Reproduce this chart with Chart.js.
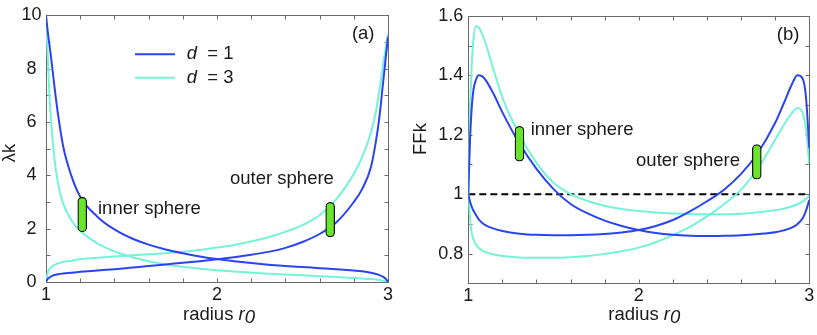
<!DOCTYPE html>
<html>
<head>
<meta charset="utf-8">
<script src="https://cdn.jsdelivr.net/npm/chart.js@4"></script>
<style>
  body { margin: 0; background: #fff; }
  #wrap { position: relative; width: 817px; height: 335px; }
  canvas { position: absolute; top: 0; }
  #chartA { left: 0; }
  #chartB { left: 410px; }
</style>
</head>
<body>
<div id="wrap">
  <canvas id="chartA" width="410" height="335"></canvas>
  <canvas id="chartB" width="407" height="335"></canvas>
</div>
<script>
// panel (a): lambda_k against radius r0
const rA = [1.00, 1.01, 1.02, 1.03, 1.05, 1.07, 1.10, 1.15, 1.20, 1.30, 1.40, 1.50, 1.60, 1.70, 1.80, 1.90,
            2.00, 2.10, 2.20, 2.30, 2.40, 2.50, 2.60, 2.70, 2.80, 2.85, 2.90, 2.93, 2.95, 2.97, 2.99, 3.00];
const lamInD1  = [10.0, 9.4, 8.9, 8.4, 7.3, 6.3, 5.1, 3.95, 3.2, 2.45, 1.97, 1.64, 1.4, 1.22, 1.08, 0.96,
                  0.86, 0.78, 0.71, 0.65, 0.6, 0.56, 0.52, 0.48, 0.43, 0.4, 0.35, 0.3, 0.26, 0.2, 0.1, 0];
const lamOutD1 = [0, 0.12, 0.17, 0.21, 0.26, 0.29, 0.32, 0.35, 0.38, 0.43, 0.48, 0.54, 0.6, 0.66, 0.72, 0.78,
                  0.85, 0.93, 1.02, 1.13, 1.28, 1.5, 1.8, 2.25, 3.0, 3.5, 4.3, 5.3, 6.2, 7.4, 8.6, 9.2];
const lamInD3  = [9.9, 8.5, 7.0, 6.0, 4.6, 3.7, 2.95, 2.3, 1.92, 1.45, 1.15, 0.94, 0.78, 0.66, 0.57, 0.5,
                  0.44, 0.39, 0.35, 0.31, 0.28, 0.25, 0.22, 0.19, 0.15, 0.13, 0.11, 0.09, 0.07, 0.05, 0.02, 0];
const lamOutD3 = [0, 0.35, 0.48, 0.56, 0.64, 0.7, 0.75, 0.8, 0.85, 0.91, 0.96, 1.0, 1.04, 1.08, 1.13, 1.2,
                  1.29, 1.39, 1.52, 1.68, 1.88, 2.13, 2.5, 3.12, 4.05, 4.7, 5.6, 6.4, 7.2, 8.1, 8.9, 9.3];

// panel (b): FF_k against radius r0
const rB = [1.00, 1.01, 1.02, 1.03, 1.045, 1.06, 1.08, 1.10, 1.15, 1.20, 1.30, 1.40, 1.50, 1.60, 1.70, 1.80,
            1.90, 2.00, 2.10, 2.20, 2.30, 2.40, 2.50, 2.60, 2.70, 2.80, 2.85, 2.90, 2.93, 2.96, 2.98, 3.00];
const ffInD1  = [1.0, 1.18, 1.29, 1.35, 1.385, 1.40, 1.397, 1.385, 1.335, 1.275, 1.17, 1.085, 1.017, 0.967, 0.935, 0.911,
                 0.893, 0.879, 0.869, 0.863, 0.86, 0.859, 0.86, 0.862, 0.866, 0.872, 0.878, 0.888, 0.899, 0.918, 0.943, 0.98];
const ffOutD1 = [1.0, 0.975, 0.958, 0.945, 0.93, 0.916, 0.904, 0.896, 0.884, 0.876, 0.867, 0.863, 0.862, 0.862, 0.863, 0.866,
                 0.871, 0.879, 0.893, 0.913, 0.942, 0.976, 1.015, 1.068, 1.14, 1.24, 1.305, 1.372, 1.40, 1.39, 1.33, 1.155];
const ffInD3  = [1.0, 1.28, 1.43, 1.52, 1.565, 1.562, 1.54, 1.51, 1.415, 1.325, 1.2, 1.105, 1.038, 1.0, 0.977, 0.961,
                 0.95, 0.943, 0.938, 0.935, 0.933, 0.932, 0.932, 0.934, 0.939, 0.946, 0.951, 0.959, 0.966, 0.975, 0.984, 0.995];
const ffOutD3 = [1.0, 0.92, 0.87, 0.85, 0.83, 0.82, 0.811, 0.805, 0.797, 0.792, 0.787, 0.786, 0.786, 0.788, 0.792, 0.799,
                 0.808, 0.82, 0.838, 0.862, 0.89, 0.925, 0.966, 1.015, 1.088, 1.183, 1.232, 1.274, 1.29, 1.275, 1.22, 1.1];
const refR = [1, 3];
const refFF = [1, 1];

// green markers: inner sphere, outer sphere
const markRA = [1.212, 2.662];
const markLoA = [1.88, 1.69];
const markHiA = [3.18, 2.99];
const markRB = [1.30, 2.692];
const markLoB = [1.111, 1.05];
const markHiB = [1.228, 1.167];

const seriesLabels = ['1', '3'];
const xTicks = [1, 2, 3];
const xMinor = [1, 1.2, 1.4, 1.6, 1.8, 2, 2.2, 2.4, 2.6, 2.8, 3];
const yTicksA = [0, 2, 4, 6, 8, 10];
const yMinorA = [1, 2, 3, 4, 5, 6, 7, 8, 9];
const yTicksB = [0.8, 1, 1.2, 1.4, 1.6];
const yMinorB = [0.8, 0.9, 1, 1.1, 1.2, 1.3, 1.4, 1.5];

const FONT = '"Liberation Sans", Arial, sans-serif';
const BLUE = '#2b44f2';
const CYAN = '#74f3da';
const GREEN = '#6be52b';
const FRAME = '#6a6a6a';
const TEXT = '#1a1a1a';

function pts(xs, ys) {
  return xs.map((x, i) => ({ x: x, y: ys[i] }));
}

function lineSet(xs, ys, color) {
  return {
    type: 'line', data: pts(xs, ys), borderColor: color, borderWidth: 2,
    pointRadius: 0, fill: false, cubicInterpolationMode: 'monotone', order: 2
  };
}

function markerSet(xs, lo, hi) {
  return {
    type: 'bar', data: xs.map((x, i) => ({ x: x, y: [lo[i], hi[i]] })),
    backgroundColor: GREEN, borderColor: '#111', borderWidth: 1.3,
    borderRadius: 5, borderSkipped: false, barThickness: 9, order: 0
  };
}

// draw a run of text pieces, some italic, some shifted down
function richText(ctx, x, y, parts, size) {
  let cx = x;
  parts.forEach(p => {
    ctx.font = (p.italic ? 'italic ' : '') + (p.size || size) + 'px ' + FONT;
    ctx.fillText(p.t, cx, y + (p.dy || 0));
    cx += ctx.measureText(p.t).width;
  });
}

// box frame with inward ticks
const framePlugin = {
  id: 'frame',
  beforeDatasetsDraw(chart, args, opts) {
    const { ctx, chartArea: a, scales: { x, y } } = chart;
    const L = Math.round(a.left) + 0.5, R = Math.round(a.right) + 0.5;
    const T = Math.round(a.top) + 0.5, B = Math.round(a.bottom) + 0.5;
    ctx.save();
    ctx.strokeStyle = FRAME;
    ctx.lineWidth = 1;
    ctx.strokeRect(L, T, R - L, B - T);
    ctx.beginPath();
    opts.xMinor.forEach(v => {
      const px = Math.round(x.getPixelForValue(v)) + 0.5;
      ctx.moveTo(px, B); ctx.lineTo(px, B - 4);
      ctx.moveTo(px, T); ctx.lineTo(px, T + 4);
    });
    opts.yMinor.forEach(v => {
      const py = Math.round(y.getPixelForValue(v)) + 0.5;
      ctx.moveTo(L, py); ctx.lineTo(L + 4, py);
      ctx.moveTo(R, py); ctx.lineTo(R - 4, py);
    });
    ctx.stroke();
    ctx.restore();
  }
};

// annotations, axis titles and legend
const notesPlugin = {
  id: 'notes',
  afterDraw(chart, args, opts) {
    const { ctx, scales: { x, y } } = chart;
    ctx.save();
    ctx.fillStyle = TEXT;
    ctx.textBaseline = 'alphabetic';
    ctx.textAlign = 'left';
    opts.labels.forEach(n => {
      richText(ctx, x.getPixelForValue(n.r), y.getPixelForValue(n.v), [{ t: n.text }], 18.5);
    });
    // x title
    richText(ctx, opts.xTitle.x, opts.xTitle.y,
      [{ t: 'radius ' }, { t: 'r', italic: true }, { t: '0', italic: true, dy: 3 }], 18.5);
    // y title
    ctx.save();
    ctx.translate(opts.yTitle.x, opts.yTitle.y);
    ctx.rotate(-Math.PI / 2);
    ctx.textAlign = 'center';
    ctx.textBaseline = 'middle';
    ctx.font = '18.5px ' + FONT;
    ctx.fillText(opts.yTitle.text, 0, 0);
    ctx.restore();
    // legend
    if (opts.legend) {
      const lg = opts.legend;
      [BLUE, CYAN].forEach((c, i) => {
        const ly = lg.y + i * lg.gap;
        ctx.strokeStyle = c;
        ctx.lineWidth = 2;
        ctx.beginPath();
        ctx.moveTo(lg.x0, ly); ctx.lineTo(lg.x1, ly);
        ctx.stroke();
        ctx.textBaseline = 'middle';
        richText(ctx, lg.tx, ly, [{ t: 'd', italic: true }, { t: '  = ' + seriesLabels[i] }], 18.5);
      });
    }
    ctx.restore();
  }
};

function scaleOpts(min, max, ticks, pad, size, isX, center) {
  return {
    type: 'linear', min: min, max: max, offset: false,
    afterBuildTicks: s => { s.ticks = ticks.map(v => ({ value: v })); },
    afterFit: s => { if (isX) s.height = size; else s.width = size; },
    ticks: {
      font: { family: FONT, size: 18 }, color: TEXT, padding: pad,
      maxRotation: 0, crossAlign: center ? 'center' : 'near',
      callback: v => String(v)
    },
    grid: { display: false, drawTicks: false, offset: false },
    border: { display: false }
  };
}

new Chart(document.getElementById('chartA'), {
  type: 'line',
  data: {
    datasets: [
      lineSet(rA, lamInD1, BLUE),
      lineSet(rA, lamOutD1, BLUE),
      lineSet(rA, lamInD3, CYAN),
      lineSet(rA, lamOutD3, CYAN),
      markerSet(markRA, markLoA, markHiA)
    ]
  },
  options: {
    responsive: false,
    animation: false,
    layout: { padding: { left: 0, right: 22, top: 13, bottom: 0 } },
    scales: {
      x: scaleOpts(1, 3, xTicks, 2, 53, true, false),
      y: scaleOpts(0, 10, yTicksA, 4.5, 46, false, true)
    },
    plugins: {
      legend: { display: false },
      tooltip: { enabled: false },
      frame: { xMinor: xMinor, yMinor: yMinorA },
      notes: {
        labels: [
          { text: 'inner sphere', r: 1.304, v: 2.56 },
          { text: 'outer sphere', r: 2.076, v: 3.68 },
          { text: '(a)', r: 2.789, v: 9.11 }
        ],
        xTitle: { x: 183, y: 319.5 },
        yTitle: { x: 10, y: 153, text: 'λk' },
        legend: { x0: 135, x1: 175, y: 54.3, gap: 23.4, tx: 186.7 }
      }
    }
  },
  plugins: [framePlugin, notesPlugin]
});

const refSet = {
  type: 'line', data: pts(refR, refFF), borderColor: '#000', borderWidth: 2,
  borderDash: [7, 4], pointRadius: 0, fill: false, order: 3
};

new Chart(document.getElementById('chartB'), {
  type: 'line',
  data: {
    datasets: [
      refSet,
      lineSet(rB, ffInD1, BLUE),
      lineSet(rB, ffOutD1, BLUE),
      lineSet(rB, ffInD3, CYAN),
      lineSet(rB, ffOutD3, CYAN),
      markerSet(markRB, markLoB, markHiB)
    ]
  },
  options: {
    responsive: false,
    animation: false,
    layout: { padding: { left: 0, right: 7.7, top: 13.3, bottom: 0 } },
    scales: {
      x: scaleOpts(1, 3, xTicks, 2, 51.7, true, false),
      y: scaleOpts(0.7, 1.6, yTicksB, 5, 58.3, false, false)
    },
    plugins: {
      legend: { display: false },
      tooltip: { enabled: false },
      frame: { xMinor: xMinor, yMinor: yMinorB },
      notes: {
        labels: [
          { text: 'inner sphere', r: 1.366, v: 1.198 },
          { text: 'outer sphere', r: 1.984, v: 1.094 },
          { text: '(b)', r: 2.809, v: 1.518 }
        ],
        xTitle: { x: 198.3, y: 319.5 },
        yTitle: { x: 11, y: 139, text: 'FFk' }
      }
    }
  },
  plugins: [framePlugin, notesPlugin]
});
</script>
</body>
</html>
